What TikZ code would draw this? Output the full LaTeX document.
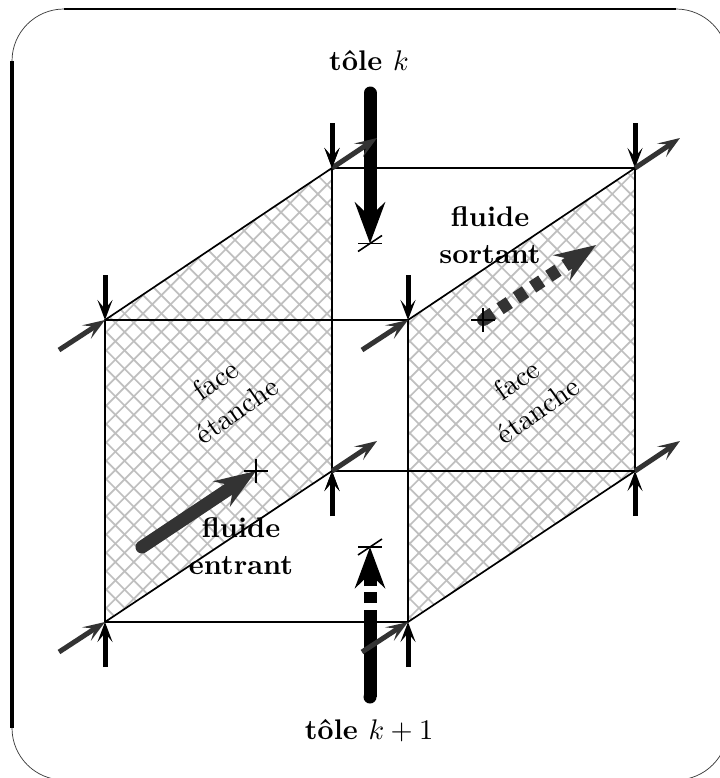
\documentclass[tikz,border=0pt]{standalone}
\usepackage{fontspec}
\usetikzlibrary{arrows.meta}
\tikzset{
 x=1bp,y=-1bp,
 lbl/.style={scale=2.85,font=\bfseries,align=center,inner sep=0pt},
 facelbl/.style={scale=2.85,align=center,inner sep=0pt,rotate=35},
 edge/.style={line width=1.7bp,black},
 hatchline/.style={line width=1.7bp,color=black!25},
 dark/.style={color=black!80},
 vert/.style={line width=5bp,black,-{Stealth[length=20bp,width=15bp,inset=9bp]}},
 flow/.style={line width=5bp,dark,-{Stealth[length=22bp,width=16bp,inset=10bp]}},
 bigarrow/.style={line width=13bp,-{Stealth[length=41bp,width=30bp,inset=14bp]}},
 tick/.style={line width=1.6bp,black},
 frametop/.style={line width=2bp,black},
 frameleft/.style={line width=3.3bp,black},
 framearc/.style={line width=0.7bp,black!80},
}
\begin{document}
\begin{tikzpicture}
\useasboundingbox (0,0) rectangle (720,778);
\fill[white] (0,0) rectangle (720,778);
\coordinate (LT) at (105,320); \coordinate (LB) at (105,622);
\coordinate (LTb) at (332,168); \coordinate (LBb) at (332,471);
\coordinate (RT) at (408,320); \coordinate (RB) at (408,622);
\coordinate (RTb) at (635,168); \coordinate (RBb) at (635,471);
\clip (0,0) rectangle (720,778);
\draw[frametop] (64,9) -- (676,9);
\draw[frameleft] (12,61) -- (12,728);
\draw[framearc] (12,61) arc[start angle=180,end angle=90,x radius=52,y radius=-52];
\draw[framearc] (676,9) arc[start angle=90,end angle=0,x radius=52,y radius=-52];
\draw[framearc] (12,728) arc[start angle=180,end angle=270,x radius=52,y radius=-52];
\draw[framearc] (728,728) arc[start angle=0,end angle=-90,x radius=52,y radius=-52];
\foreach \a/\b/\c/\d in {LT/LTb/LBb/LB,RT/RTb/RBb/RB}{
 \begin{scope}
 \clip (\a) -- (\b) -- (\c) -- (\d) -- cycle;
 \foreach \k in {-40,...,80}{
  \draw[hatchline] (\k*18.4+5,102) -- ++(640,640);
  \draw[hatchline] (\k*18.4+5,102) -- ++(-640,640);
 }
 \end{scope}
}
\draw[edge] (LT) -- (LTb) -- (LBb) -- (LB) -- cycle;
\draw[edge] (RT) -- (RTb) -- (RBb) -- (RB) -- cycle;
\draw[edge] (LTb) -- (RTb);
\draw[edge] (LT) -- (RT);
\draw[edge] (LBb) -- (RBb);
\draw[edge] (LB) -- (RB);
\node[lbl] (tk) at (369,61) {tôle $k$};
\node[lbl] (tk1) at (369,731) {tôle $k+1$};
\node[lbl] (fs) at (490,235) {fluide\\[1pt]sortant};
\node[lbl] (fe) at (241,546) {fluide\\[1pt]entrant};
\node[facelbl] (f1) at (226,395) {face\\[1pt]étanche};
\node[facelbl] (f2) at (527,395) {face\\[1pt]étanche};
\foreach \p in {LT,RT,LTb,RTb}{ \coordinate (s) at ([yshift=45bp]\p); \draw[vert] (s) -- (\p); }
\foreach \p in {LB,RB,LBb,RBb}{ \coordinate (s) at ([yshift=-45bp]\p); \draw[vert] (s) -- (\p); }
\coordinate (ka) at (370,93); \coordinate (kb) at (370,243.5);
\coordinate (ja) at (370,697); \coordinate (jb) at (370,547);
\coordinate (ea) at (142,547); \coordinate (eb) at (256,471);
\coordinate (sa) at (483,320); \coordinate (sb) at (596,245);
\draw[bigarrow,black,line cap=round] (ka) -- (kb);
\fill[black] (ja) circle[radius=6.5];
\draw[bigarrow,black,dash pattern=on 87bp off 7bp on 11bp off 6bp on 100bp] (ja) -- (jb);
\foreach \p in {LT,RT,LB,RB}{ \coordinate (s) at ([xshift=-46bp,yshift=-30bp]\p); \draw[flow] (s) -- (\p); }
\foreach \p in {LTb,RTb,LBb,RBb}{ \coordinate (e) at ([xshift=45bp,yshift=30bp]\p); \draw[flow] (\p) -- (e); }
\draw[vert] ([yshift=45bp]LTb) -- (LTb);
\draw[vert] ([yshift=-45bp]LBb) -- (LBb);
\draw[bigarrow,dark,line cap=round] (ea) -- (eb);
\fill[dark] (sa) circle[radius=6];
\draw[bigarrow,dark,dash pattern=on 11bp off 8.5bp,dash phase=18.5bp] (sa) -- (sb);
\foreach \p in {kb,jb,eb,sa}{
 \draw[tick] ([xshift=-12bp]\p) -- ([xshift=12bp]\p);
}
\draw[tick] ([yshift=-12bp]eb) -- ([yshift=12bp]eb);
\draw[tick] ([yshift=-12bp]sa) -- ([yshift=12bp]sa);
\draw[tick] ([xshift=-12bp,yshift=-8bp]kb) -- ([xshift=12bp,yshift=8bp]kb);
\draw[tick] ([xshift=-12bp,yshift=-8bp]jb) -- ([xshift=12bp,yshift=8bp]jb);
\end{tikzpicture}
\end{document}
